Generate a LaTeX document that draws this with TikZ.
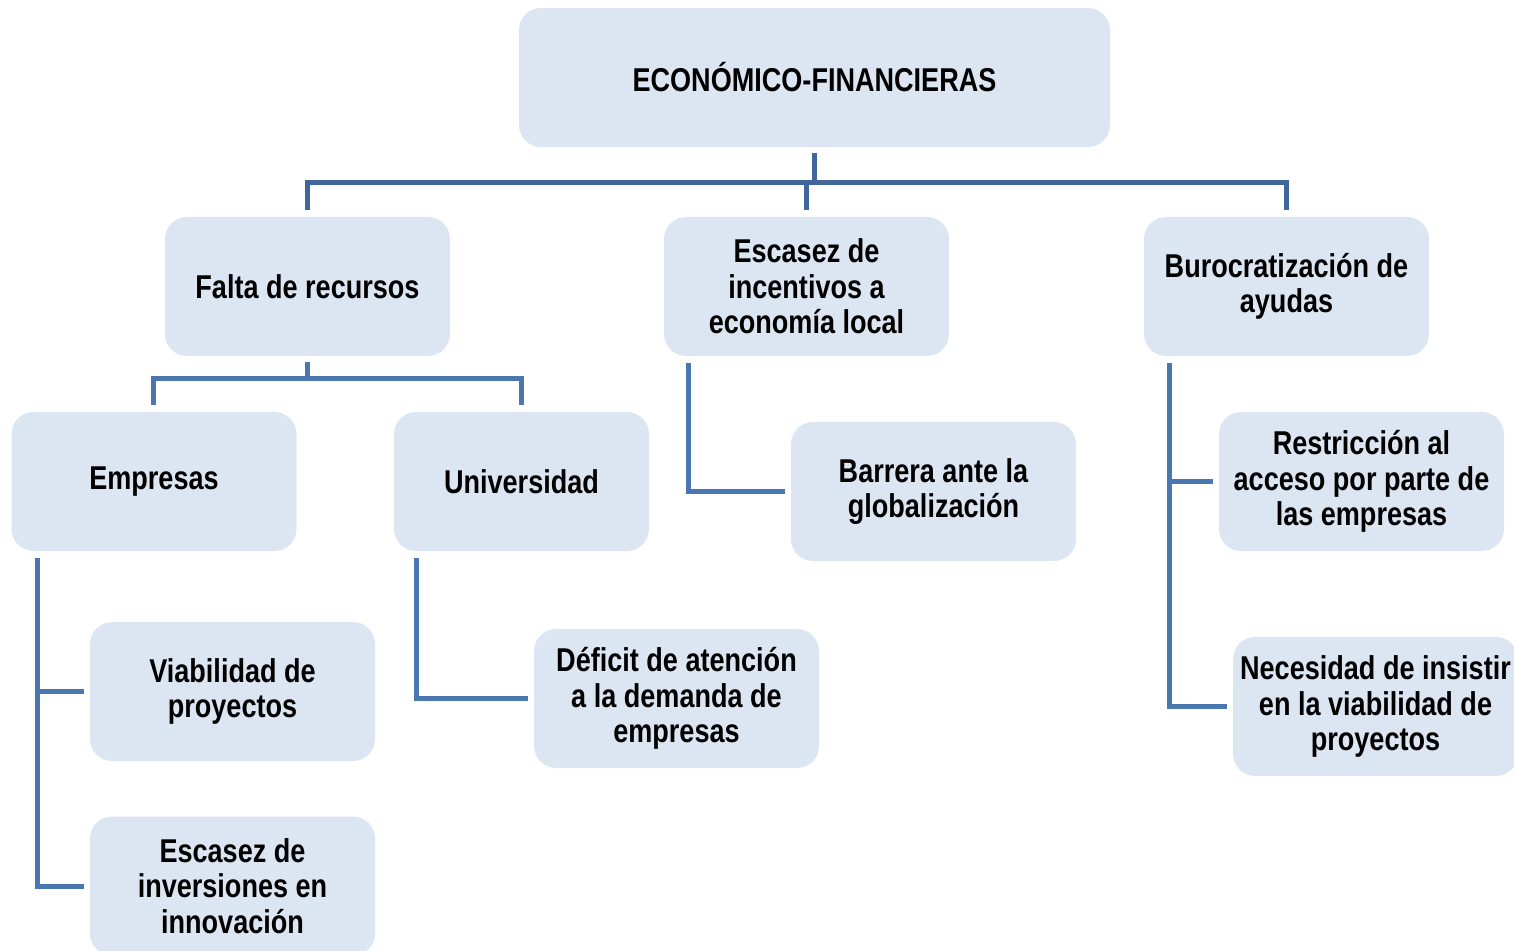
\documentclass[tikz,border=0pt]{standalone}
\usepackage{fontspec}
\setmainfont{Liberation Sans}[FakeStretch=0.82]
\usetikzlibrary{positioning, calc}
\definecolor{boxfill}{HTML}{DCE6F2}
\definecolor{linkblue}{HTML}{4A77AF}
\definecolor{linkdark}{HTML}{41679A}

\begin{document}
\begin{tikzpicture}[
	x=0.5pt, y=-0.5pt,
	box/.style={rectangle, rounded corners=11pt, fill=boxfill, minimum width=142.5pt, minimum height=69.5pt, inner sep=2pt, align=center, font=\fontsize{16.5}{17.8}\selectfont\bfseries},
	link/.style={draw=linkblue, line width=2.5pt},
	linktop/.style={link, draw=linkdark}
]
\useasboundingbox (0,0) rectangle (1514,951);

\node[box, minimum width=295.5pt] (root) at (814.5,77.5) {ECONÓMICO-FINANCIERAS};

\node[box] (falta) at (307.5,286.5) {Falta de recursos};
\node[box] (escasez_incent) at (806.5,286.5) {Escasez de\\incentivos a\\economía local};
\node[box] (buro) at (1286.5,286.5) {Burocratización de\\ayudas};

\node[box] (empresas) at (154,481.5) {Empresas};
\node[box, minimum width=127.5pt] (univ) at (521.5,481.5) {Universidad};
\node[box] (barrera) at (933.5,491.5) {Barrera ante la\\globalización};
\node[box] (restric) at (1361.5,481.5) {Restricción al\\acceso por parte de\\las empresas};

\node[box] (viab) at (232.5,691.5) {Viabilidad de\\proyectos};
\node[box] (escasez_inv) at (232.5,886) {Escasez de\\inversiones en\\innovación};
\node[box] (deficit) at (676.5,698.5) {Déficit de atención\\a la demanda de\\empresas};
\node[box] (necesidad) at (1375.5,706.5) {Necesidad de insistir\\en la viabilidad de\\proyectos};

% first level
\draw[linktop] ($(root.south)+(0,6)$) -- ++(0,30);
\draw[linktop] ($(falta.north)+(0,-7)$) -- ++(0,-27) -| ($(buro.north)+(0,-7)$);
\draw[linktop] ($(escasez_incent.north)+(0,-7)$) -- ++(0,-27);

% falta de recursos
\draw[link] ($(falta.south)+(0,6)$) -- ++(0,16);
\draw[link] ($(empresas.north)+(-1,-7)$) |- ($(falta.south)+(0,22)$) -| ($(univ.north)+(0,-7)$);

% empresas
\coordinate (empresas_line) at ($(empresas.south west)+(26,7)$);
\draw[link] (empresas_line) |- ($(escasez_inv.west)+(-6,0)$);
\draw[link] (empresas_line |- viab.west) -- ($(viab.west)+(-6,0)$);

% universidad
\draw[link] ($(univ.south west)+(23,7)$) |- ($(deficit.west)+(-6,0)$);

% incentivos
\draw[link] ($(escasez_incent.south west)+(25,7)$) |- ($(barrera.west)+(-6,0)$);

% burocratizacion
\coordinate (buro_line) at ($(buro.south west)+(26,7)$);
\draw[link] (buro_line) |- ($(necesidad.west)+(-6,0)$);
\draw[link] (buro_line |- restric.west) -- ($(restric.west)+(-6,0)$);
\end{tikzpicture}
\end{document}
